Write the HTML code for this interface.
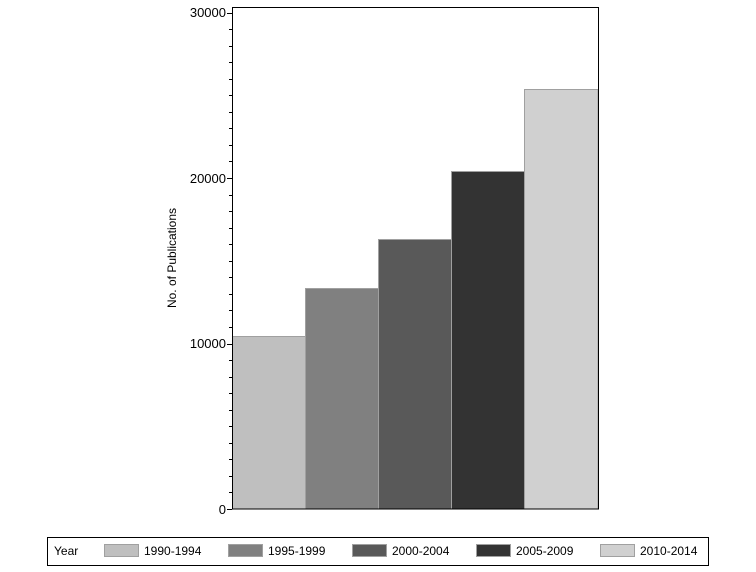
<!DOCTYPE html>
<html><head><meta charset="utf-8"><style>
body{margin:0;background:#fff;}
svg text{font-family:"Liberation Sans",Arial,sans-serif;fill:#000;}
</style></head><body>
<svg width="756" height="567" xmlns="http://www.w3.org/2000/svg">
<rect width="756" height="567" fill="#fff"/>
<g stroke="#a0a0a0" stroke-width="1">
<rect x="232.5" y="336.5" width="73" height="172.5" fill="#bfbfbf"/>
<rect x="305.5" y="288.5" width="73" height="220.5" fill="#808080"/>
<rect x="378.5" y="239.5" width="73" height="269.5" fill="#595959"/>
<rect x="451.5" y="171.5" width="73" height="337.5" fill="#333333"/>
<rect x="524.5" y="89.5" width="73.5" height="419.5" fill="#d0d0d0"/>
</g>
<rect x="232.5" y="7.5" width="366" height="501.5" fill="none" stroke="#000" stroke-width="1"/>
<g stroke="#000" stroke-width="1" id="ticks"></g>
<g font-size="13" text-anchor="end">
<text x="226" y="17">30000</text>
<text x="226" y="183">20000</text>
<text x="226" y="348">10000</text>
<text x="226" y="514">0</text>
</g>
<text font-size="12" transform="translate(176,258) rotate(-90)" text-anchor="middle">No. of Publications</text>
<rect x="47.5" y="537.5" width="661" height="28" fill="none" stroke="#000" stroke-width="1"/>
<g font-size="12">
<text x="54" y="555">Year</text>
<rect x="104.5" y="544.5" width="34" height="12" fill="#bfbfbf" stroke="#a0a0a0"/><text x="144" y="555">1990-1994</text>
<rect x="228.5" y="544.5" width="34" height="12" fill="#808080" stroke="#a0a0a0"/><text x="268" y="555">1995-1999</text>
<rect x="352.5" y="544.5" width="34" height="12" fill="#595959" stroke="#a0a0a0"/><text x="392" y="555">2000-2004</text>
<rect x="476.5" y="544.5" width="34" height="12" fill="#333333" stroke="#a0a0a0"/><text x="516" y="555">2005-2009</text>
<rect x="600.5" y="544.5" width="34" height="12" fill="#d0d0d0" stroke="#a0a0a0"/><text x="640" y="555">2010-2014</text>
</g>
</svg>
<script>
var g=document.getElementById('ticks'),s='';
for(var i=0;i<=30;i++){var y=509-i*16.55;var l=(i%10==0)?5:3;s+='<line x1="'+(232-l)+'" x2="232" y1="'+(Math.round(y)+0.5)+'" y2="'+(Math.round(y)+0.5)+'"/>';}
g.innerHTML=s;
</script>
</body></html>
